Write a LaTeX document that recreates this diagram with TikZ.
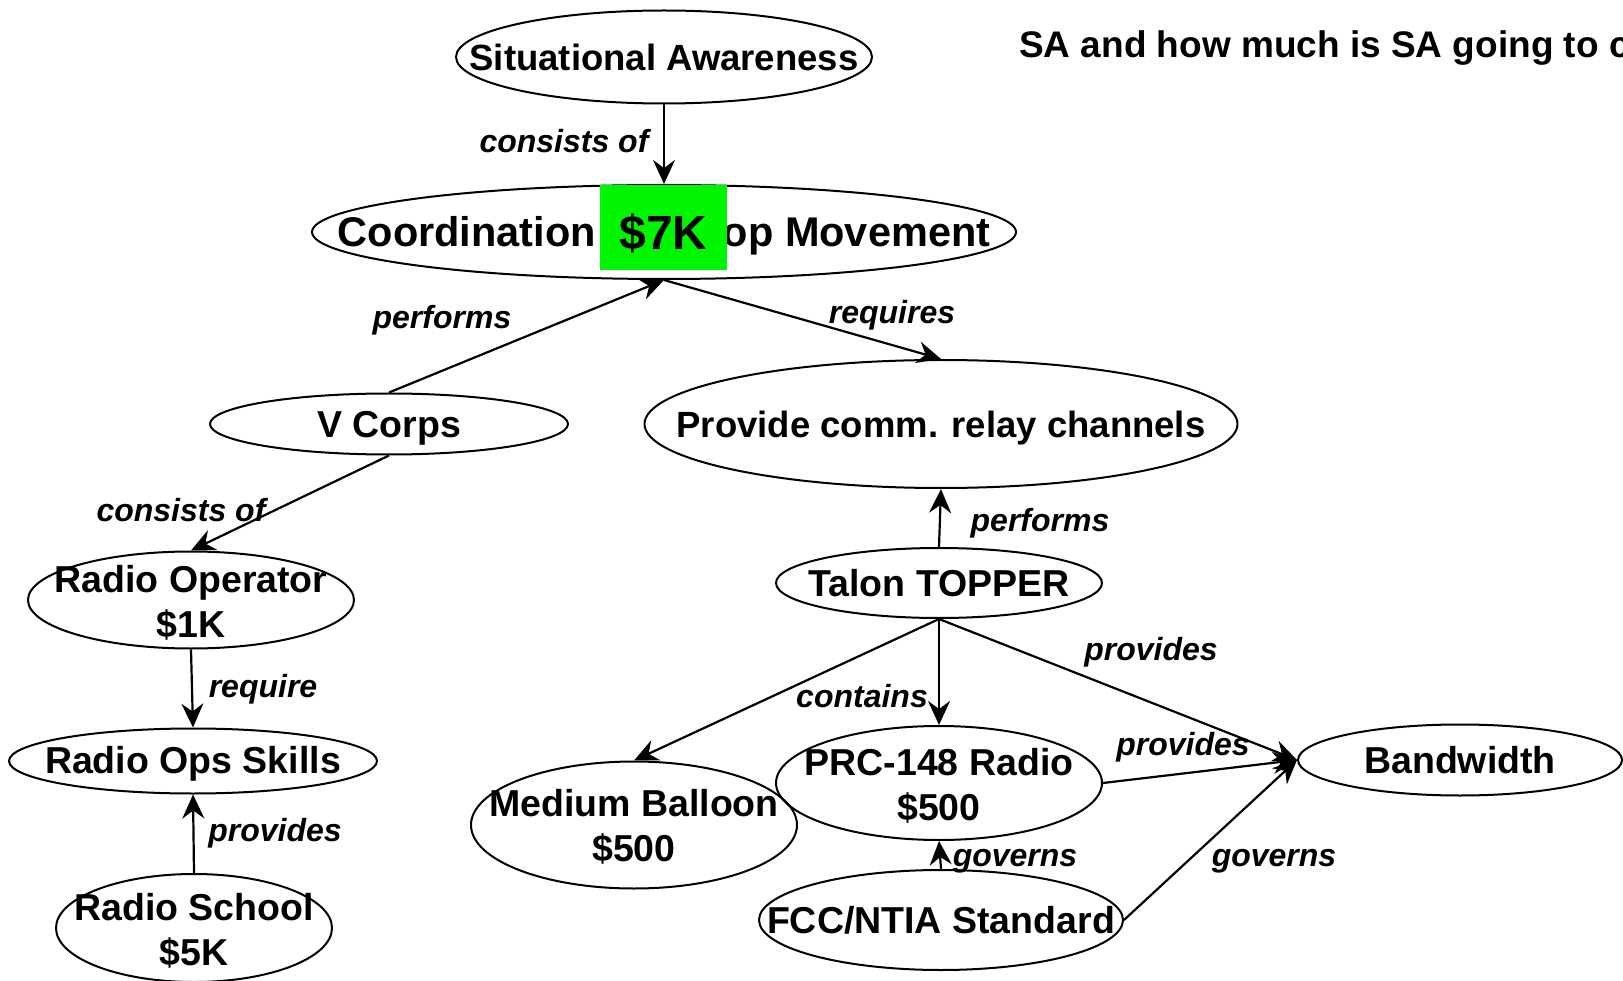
\documentclass[tikz,border=0pt]{standalone}
\usepackage{fontspec}
\setmainfont{Liberation Sans}
\usetikzlibrary{shapes.geometric,arrows.meta}
\definecolor{greenk}{RGB}{0,245,0}
\begin{document}
\begin{tikzpicture}[x=1pt,y=-1pt,
  ell/.style={ellipse,draw,line width=2pt,inner sep=0pt},
  txt/.style={inner sep=0pt,align=center,font=\fontsize{37.5}{44.5}\selectfont\bfseries},
  lbl/.style={inner sep=0pt,font=\fontsize{32}{36}\selectfont\bfseries\itshape},
  con/.style={line width=2.2pt,-{Stealth[length=24pt,width=22pt,inset=8pt]}}]
\useasboundingbox[fill=white] (0,0) rectangle (1623,981);

% nodes (ellipses)
\node[ell,minimum width=416,minimum height=93] (sa) at (664,57) {};
\node[ell,minimum width=704,minimum height=94] (co) at (664,232) {};
\node[ell,minimum width=358,minimum height=61] (vc) at (389,424) {};
\node[ell,minimum width=593,minimum height=128] (pc) at (941,424) {};
\node[ell,minimum width=326,minimum height=97] (ro) at (191,600) {};
\node[ell,minimum width=368,minimum height=65] (rs) at (193,761) {};
\node[ell,minimum width=276,minimum height=108] (sc) at (194,928) {};
\node[ell,minimum width=326,minimum height=70] (tt) at (939,583) {};
\node[ell,minimum width=326,minimum height=114] (pr) at (939,783) {};
\node[ell,minimum width=326,minimum height=127] (mb) at (634,825) {};
\node[ell,minimum width=324,minimum height=71] (bw) at (1460,760) {};
\node[ell,minimum width=364,minimum height=100] (fc) at (941,920) {};

% texts
\node[txt,font=\fontsize{36.5}{44}\selectfont\bfseries] (tsa) at (664,57) {Situational Awareness};
\node[txt,font=\fontsize{41.5}{44}\selectfont\bfseries] (tco) at (664,236) {Coordination of Troop Movement};
\node[txt] (tvc) at (389,428) {V Corps};
\node[txt,font=\fontsize{36.5}{44}\selectfont\bfseries] (tpc) at (941,428) {Provide comm. relay channels};
\node[txt] (tro) at (191,603) {Radio Operator\\\$1K};
\node[txt] (trs) at (193,764) {Radio Ops Skills};
\node[txt] (tsc) at (194,931) {Radio School\\\$5K};
\node[txt] (ttt) at (939,583) {Talon TOPPER};
\node[txt] (tpr) at (939,786) {PRC-148 Radio\\\$500};
\node[txt] (tmb) at (634,827) {Medium Balloon\\\$500};
\node[txt] (tbw) at (1460,760) {Bandwidth};
\node[txt] (tfc) at (941,920) {FCC/NTIA Standard};

% connectors
\draw[con] (sa.south) -- (co.north);
\draw[con] (vc.north) -- (co.south);
\draw[con] (co.south) -- (pc.north);
\draw[con] (vc.south) -- (ro.north);
\draw[con] (tt.north) -- (pc.south);
\draw[con] (ro.south) -- (rs.north);
\draw[con] (sc.north) -- (rs.south);
\draw[con] (tt.south) -- (mb.north);
\draw[con] (tt.south) -- (pr.north);
\draw[con] (tt.south) -- (bw.west);
\draw[con] (pr.east) -- (bw.west);
\draw[con] (fc.north) -- (pr.south);
\draw[con] (fc.east) -- (bw.west);

% edge labels
\node[lbl] (l1) at (564,141) {consists of};
\node[lbl] (l2) at (442,320) {performs};
\node[lbl] (l3) at (892,315) {requires};
\node[lbl] (l4) at (181,510) {consists of};
\node[lbl] (l5) at (1040,523) {performs};
\node[lbl] (l6) at (263,689) {require};
\node[lbl] (l7) at (275,833) {provides};
\node[lbl] (l8) at (1151,652) {provides};
\node[lbl] (l9) at (862,696) {contains};
\node[lbl] (l10) at (1183,747) {provides};
\node[lbl] (l11) at (1015,861) {governs};
\node[lbl] (l12) at (1274,861) {governs};

% green cost box
\node[fill=greenk,minimum width=127,minimum height=85,inner sep=0pt] (gk) at (663.5,227.5) {};
\node[inner sep=0pt,font=\fontsize{48}{52}\selectfont\bfseries] (tgk) at (663.5,233) {\$7K};

% clipped heading at top right
\begin{scope}
\clip (0,0) rectangle (1623,981);
\node[anchor=west,inner sep=0pt,font=\fontsize{37}{42}\selectfont\bfseries] (hd) at (1019,48) {SA and how much is SA going to cost?};
\end{scope}
\end{tikzpicture}
\end{document}
